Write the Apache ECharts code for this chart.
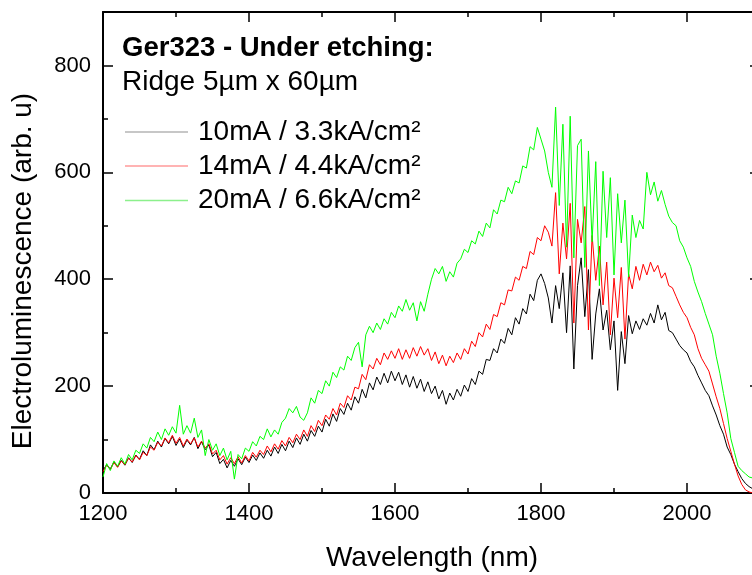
<!DOCTYPE html>
<html><head><meta charset="utf-8">
<script src="https://cdn.jsdelivr.net/npm/echarts@6/dist/echarts.min.js"></script>
<style>html,body{margin:0;padding:0;background:#fff}#c{width:752px;height:575px}#err{position:absolute;left:300px;top:300px;font:10px sans-serif;color:#00f}</style>
</head><body><div id="c"></div><div id="err"></div>
<script>
// Wavelength grid (nm)
const wavelengths = [
1200,1205,1210,1215,1220,1225,1230,1235,1240,1245,
1250,1255,1260,1265,1270,1275,1280,1285,1290,1295,
1300,1305,1310,1315,1320,1325,1330,1335,1340,1345,
1350,1355,1360,1365,1370,1375,1380,1385,1390,1395,
1400,1405,1410,1415,1420,1425,1430,1435,1440,1445,
1450,1455,1460,1465,1470,1475,1480,1485,1490,1495,
1500,1505,1510,1515,1520,1525,1530,1535,1540,1545,
1550,1555,1560,1565,1570,1575,1580,1585,1590,1595,
1600,1605,1610,1615,1620,1625,1630,1635,1640,1645,
1650,1655,1660,1665,1670,1675,1680,1685,1690,1695,
1700,1705,1710,1715,1720,1725,1730,1735,1740,1745,
1750,1755,1760,1765,1770,1775,1780,1785,1790,1795,
1800,1805,1810,1815,1820,1825,1830,1835,1840,1845,
1850,1855,1860,1865,1870,1875,1880,1885,1890,1895,
1900,1905,1910,1915,1920,1925,1930,1935,1940,1945,
1950,1955,1960,1965,1970,1975,1980,1985,1990,1995,
2000,2005,2010,2015,2020,2025,2030,2035,2040,2045,
2050,2055,2060,2065,2070,2075,2080,2085,2090,2095,
2100];

// 10mA / 3.3kA/cm²
const el10mA = [
42,53,45,58,49,61,52,66,57,71,
63,79,70,90,81,97,86,102,92,106,
89,101,85,99,90,104,83,96,81,90,
68,76,55,63,47,61,50,64,53,67,
57,71,61,75,65,80,69,86,74,91,
79,97,85,103,91,110,97,117,106,125,
114,138,125,148,134,158,147,168,155,180,
168,194,178,206,193,217,203,224,206,228,
210,226,203,221,198,218,196,213,190,208,
186,200,176,192,166,187,174,194,181,202,
190,214,203,228,222,250,248,270,262,288,
280,308,296,328,316,345,335,372,360,398,
410,392,365,318,388,345,412,300,425,232,
388,440,330,418,250,335,382,305,342,268,
322,192,302,242,332,298,322,306,326,314,
336,318,352,324,338,304,300,288,276,268,
262,246,236,220,206,192,182,163,146,126,
110,86,72,54,40,27,18,12,8,6,
5];

// 14mA / 4.4kA/cm²
const el14mA = [
40,52,44,57,48,60,53,65,58,70,
62,76,70,86,80,95,88,103,94,108,
93,104,88,101,92,103,86,97,84,92,
73,80,62,70,54,66,55,68,56,70,
60,76,67,80,72,88,77,92,82,98,
88,104,94,110,100,118,106,126,115,136,
126,146,138,158,146,168,160,182,174,198,
195,222,212,240,232,252,240,262,250,266,
252,270,250,268,252,272,256,274,258,270,
248,264,242,258,238,256,244,262,250,270,
260,284,274,300,292,316,306,334,330,356,
352,380,378,404,398,424,420,452,446,478,
472,500,488,462,562,410,505,438,542,318,
512,468,536,305,482,398,462,352,432,296,
402,328,422,288,410,382,424,398,428,408,
432,414,426,402,412,388,384,368,352,338,
328,310,296,270,252,240,228,204,180,158,
130,102,78,54,32,16,6,2,0,0,
0];

// 20mA / 6.6kA/cm²
const el20mA = [
30,55,42,60,50,66,54,72,62,80,
74,92,84,104,96,114,100,120,108,124,
112,164,110,126,112,140,104,118,70,100,
80,92,70,84,62,78,26,72,64,84,
78,96,88,106,100,120,105,118,110,132,
140,158,150,162,142,136,150,178,168,192,
186,210,200,226,216,236,230,256,248,272,
282,236,296,312,300,318,306,326,316,338,
328,350,340,362,342,356,322,358,340,372,
400,420,410,424,396,414,404,430,438,456,
450,472,466,490,480,505,496,530,522,548,
545,572,560,584,580,612,608,648,642,684,
662,640,600,572,722,538,690,460,705,440,
650,662,422,640,470,620,388,602,478,590,
408,560,468,548,404,520,478,510,494,600,
558,582,546,566,540,518,506,500,472,460,
440,424,396,376,358,336,316,296,256,224,
186,150,102,76,50,42,36,30,28,25,
22];

const seriesNames = ['10mA / 3.3kA/cm²', '14mA / 4.4kA/cm²', '20mA / 6.6kA/cm²'];
const seriesValues = [el10mA, el14mA, el20mA];
const seriesColors = ['#000000', '#ff0000', '#00ff00'];
const legendColors = ['#b4b4b4', '#ff9a9a', '#8cf08c'];
const xTickLabels = ['1200', '1400', '1600', '1800', '2000'];
const yTickLabels = ['0', '200', '400', '600', '800'];
const titleLine1 = 'Ger323 - Under etching:';
const titleLine2 = 'Ridge 5µm x 60µm';
const xTitle = 'Wavelength (nm)';
const yTitle = 'Electroluminescence (arb. u)';

const FONT = '"Liberation Sans", Arial, Helvetica, sans-serif';
const chart = echarts.init(document.getElementById('c'), null, {renderer: 'canvas'});

function axisDef(isX, pos, showLabels) {
  const ax = {
    type: 'value', position: pos,
    min: isX ? 1200 : 0, max: isX ? 2100 : 900, interval: 200,
    axisLine: {show: true, onZero: false, lineStyle: {color: '#000', width: 2}},
    axisTick: {show: true, inside: true, length: 10, lineStyle: {color: '#000', width: 1.5}},
    minorTick: {show: true, splitNumber: 2, length: 5, lineStyle: {color: '#000', width: 1.5}},
    splitLine: {show: false},
    minorSplitLine: {show: false}
  };
  if (showLabels) {
    const allowed = isX ? xTickLabels : yTickLabels;
    ax.axisLabel = {show: true, color: '#000', fontSize: 22, fontFamily: FONT, margin: isX ? 10 : 12,
      formatter: v => (allowed.indexOf(String(v)) >= 0 ? String(v) : '')};
  } else {
    ax.axisLabel = {show: true, color: 'rgba(0,0,0,0)', formatter: () => ''};
  }
  return ax;
}

// legend drawn as graphic elements (sample line + text per series)
const legendY = [132, 166, 200.5];
const legendGraphics = [];
seriesNames.forEach((n, i) => {
  legendGraphics.push({type: 'line', silent: true,
    shape: {x1: 125, y1: legendY[i], x2: 188, y2: legendY[i]},
    style: {stroke: legendColors[i], lineWidth: 1.5}});
  legendGraphics.push({type: 'text', silent: true, x: 198, y: legendY[i],
    style: {text: n, fontSize: 28, fontFamily: FONT, fill: '#000',
      textAlign: 'left', textVerticalAlign: 'middle'}});
});

const option = {
  animation: false,
  backgroundColor: '#ffffff',
  grid: {left: 103, top: 12, width: 657, height: 481, containLabel: false,
    outerBoundsMode: 'none'},
  xAxis: [axisDef(true, 'bottom', true), axisDef(true, 'top', false)],
  yAxis: [axisDef(false, 'left', true), axisDef(false, 'right', false)],
  graphic: [
    {type: 'text', silent: true, x: 122, y: 48.5, style: {text: titleLine1, fontSize: 27.5, fontWeight: 'bold',
      fontFamily: FONT, fill: '#000', textAlign: 'left', textVerticalAlign: 'middle'}},
    {type: 'text', silent: true, x: 122, y: 82.5, style: {text: titleLine2, fontSize: 28,
      fontFamily: FONT, fill: '#000', textAlign: 'left', textVerticalAlign: 'middle'}},
    {type: 'text', silent: true, x: 23, y: 271, rotation: Math.PI / 2, style: {text: yTitle, fontSize: 28,
      fontFamily: FONT, fill: '#000', textAlign: 'center', textVerticalAlign: 'middle'}},
    {type: 'text', silent: true, x: 432, y: 558, style: {text: xTitle, fontSize: 28,
      fontFamily: FONT, fill: '#000', textAlign: 'center', textVerticalAlign: 'middle'}}
  ].concat(legendGraphics),
  series: seriesNames.map((n, i) => ({
    name: n, type: 'line', xAxisIndex: 0, yAxisIndex: 0,
    symbol: 'none', showSymbol: false, smooth: false,
    lineStyle: {color: seriesColors[i], width: 1},
    itemStyle: {color: seriesColors[i]},
    data: wavelengths.map((w, k) => [w, seriesValues[i][k]])
  }))
};
try {
  chart.setOption(option);
} catch (e) {
  document.getElementById('err').textContent = 'ERR: ' + e.message;
}
</script>
</body></html>
